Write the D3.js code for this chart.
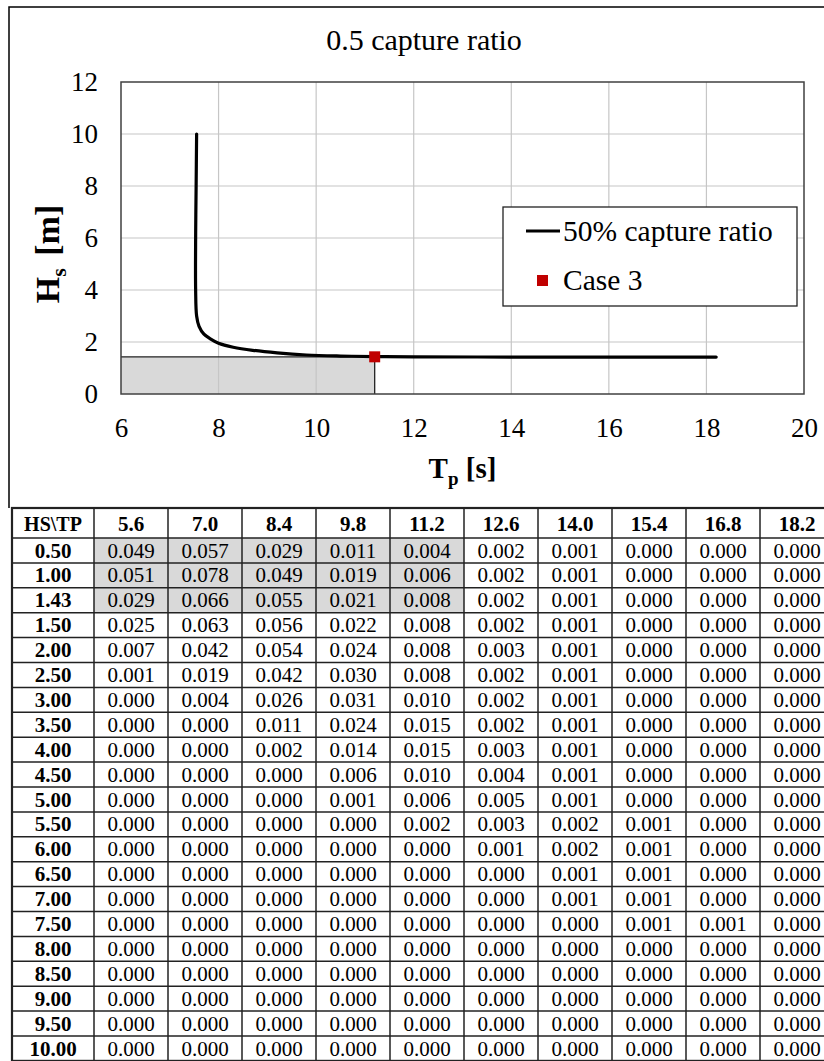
<html lang='en'>
    <head>
        <meta charset='utf-8'>
        <title>0.5 capture ratio</title>
        <script src="https://d3js.org/d3.v7.min.js"></script>
        <style>
            body { margin: 0; background: #fff; }
            svg text { font-family: "Liberation Serif", "Times New Roman", Times, serif; }
        </style>
    </head>
    <body>
        <script>
            // 50% capture ratio curve (Tp, Hs)
            var curveTp = [7.55, 7.54, 7.53, 7.53, 7.55, 7.6, 7.7, 7.85, 8.0, 8.3, 8.7, 9.2, 9.8, 10.5, 11.2, 12.0, 14.0, 16.0, 18.2];
            var curveHs = [10.0, 8.0, 6.0, 4.0, 3.0, 2.6, 2.3, 2.1, 1.95, 1.8, 1.68, 1.58, 1.5, 1.46, 1.44, 1.43, 1.42, 1.42, 1.42];
            var caseTp = 11.2;
            var caseHs = 1.43;
            var xTicks = [6, 8, 10, 12, 14, 16, 18, 20];
            var yTicks = [0, 2, 4, 6, 8, 10, 12];

            // scatter table
            var tpCols = ["5.6", "7.0", "8.4", "9.8", "11.2", "12.6", "14.0", "15.4", "16.8", "18.2"];
            var hsRows = ["0.50", "1.00", "1.43", "1.50", "2.00", "2.50", "3.00", "3.50", "4.00", "4.50",
                          "5.00", "5.50", "6.00", "6.50", "7.00", "7.50", "8.00", "8.50", "9.00", "9.50", "10.00"];
            var tableValues = [
                [0.049, 0.057, 0.029, 0.011, 0.004, 0.002, 0.001, 0.000, 0.000, 0.000],
                [0.051, 0.078, 0.049, 0.019, 0.006, 0.002, 0.001, 0.000, 0.000, 0.000],
                [0.029, 0.066, 0.055, 0.021, 0.008, 0.002, 0.001, 0.000, 0.000, 0.000],
                [0.025, 0.063, 0.056, 0.022, 0.008, 0.002, 0.001, 0.000, 0.000, 0.000],
                [0.007, 0.042, 0.054, 0.024, 0.008, 0.003, 0.001, 0.000, 0.000, 0.000],
                [0.001, 0.019, 0.042, 0.030, 0.008, 0.002, 0.001, 0.000, 0.000, 0.000],
                [0.000, 0.004, 0.026, 0.031, 0.010, 0.002, 0.001, 0.000, 0.000, 0.000],
                [0.000, 0.000, 0.011, 0.024, 0.015, 0.002, 0.001, 0.000, 0.000, 0.000],
                [0.000, 0.000, 0.002, 0.014, 0.015, 0.003, 0.001, 0.000, 0.000, 0.000],
                [0.000, 0.000, 0.000, 0.006, 0.010, 0.004, 0.001, 0.000, 0.000, 0.000],
                [0.000, 0.000, 0.000, 0.001, 0.006, 0.005, 0.001, 0.000, 0.000, 0.000],
                [0.000, 0.000, 0.000, 0.000, 0.002, 0.003, 0.002, 0.001, 0.000, 0.000],
                [0.000, 0.000, 0.000, 0.000, 0.000, 0.001, 0.002, 0.001, 0.000, 0.000],
                [0.000, 0.000, 0.000, 0.000, 0.000, 0.000, 0.001, 0.001, 0.000, 0.000],
                [0.000, 0.000, 0.000, 0.000, 0.000, 0.000, 0.001, 0.001, 0.000, 0.000],
                [0.000, 0.000, 0.000, 0.000, 0.000, 0.000, 0.000, 0.001, 0.001, 0.000],
                [0.000, 0.000, 0.000, 0.000, 0.000, 0.000, 0.000, 0.000, 0.000, 0.000],
                [0.000, 0.000, 0.000, 0.000, 0.000, 0.000, 0.000, 0.000, 0.000, 0.000],
                [0.000, 0.000, 0.000, 0.000, 0.000, 0.000, 0.000, 0.000, 0.000, 0.000],
                [0.000, 0.000, 0.000, 0.000, 0.000, 0.000, 0.000, 0.000, 0.000, 0.000],
                [0.000, 0.000, 0.000, 0.000, 0.000, 0.000, 0.000, 0.000, 0.000, 0.000]
            ];
            // shaded cells: Hs <= case Hs and Tp <= case Tp
            var shadeRows = 3, shadeCols = 5;

            var FONT = '"Liberation Serif", "Times New Roman", Times, serif';
            var width = 824, height = 1061;
            var svg = d3.select('body').append('svg')
                        .attr('width', width)
                        .attr('height', height)
                        .attr('font-family', FONT);

            // ---------- chart ----------
            var plot = {left: 121, right: 804, top: 82, bottom: 394};
            var x = d3.scaleLinear().domain([6, 20]).range([plot.left, plot.right]);
            var y = d3.scaleLinear().domain([0, 12]).range([plot.bottom, plot.top]);

            // outer frame
            svg.append('path')
               .attr('d', 'M9,508 L9,7 L824,7')
               .attr('fill', 'none')
               .attr('stroke', '#000')
               .attr('stroke-width', 1.5);

            svg.append('text')
               .attr('x', 424).attr('y', 50)
               .attr('text-anchor', 'middle')
               .style('font-family', FONT)
               .style('font-size', '30px')
               .text('0.5 capture ratio');

            // region below case 3
            svg.append('rect')
               .attr('x', x(6)).attr('y', y(caseHs))
               .attr('width', x(caseTp) - x(6))
               .attr('height', y(0) - y(caseHs))
               .attr('fill', '#d9d9d9');

            // grid
            svg.append('g').selectAll('line').data(xTicks.slice(1, -1)).enter().append('line')
               .attr('x1', d => x(d)).attr('x2', d => x(d))
               .attr('y1', plot.top).attr('y2', plot.bottom)
               .attr('stroke', '#c6c6c6').attr('stroke-width', 1.2);
            svg.append('g').selectAll('line').data(yTicks.slice(1, -1)).enter().append('line')
               .attr('x1', plot.left).attr('x2', plot.right)
               .attr('y1', d => y(d)).attr('y2', d => y(d))
               .attr('stroke', '#c6c6c6').attr('stroke-width', 1.2);

            svg.append('path')
               .attr('d', 'M' + x(6) + ',' + y(caseHs) + 'L' + x(caseTp) + ',' + y(caseHs) + 'L' + x(caseTp) + ',' + y(0))
               .attr('fill', 'none').attr('stroke', '#222').attr('stroke-width', 1.3);

            // plot border
            svg.append('rect')
               .attr('x', plot.left).attr('y', plot.top)
               .attr('width', plot.right - plot.left).attr('height', plot.bottom - plot.top)
               .attr('fill', 'none').attr('stroke', '#404040').attr('stroke-width', 1.5);

            // axes labels
            var xAxis = d3.axisBottom(x).tickValues(xTicks).tickSize(0).tickPadding(24);
            var gx = svg.append('g').attr('transform', 'translate(0,' + plot.bottom + ')').call(xAxis);
            gx.attr('font-family', FONT);
            gx.select('.domain').remove();
            gx.selectAll('text').style('font-size', '27px').style('font-family', FONT).attr('fill', '#000');

            var yAxis = d3.axisLeft(y).tickValues(yTicks).tickSize(0).tickPadding(23);
            var gy = svg.append('g').attr('transform', 'translate(' + plot.left + ',0)').call(yAxis);
            gy.attr('font-family', FONT);
            gy.select('.domain').remove();
            gy.selectAll('text').style('font-size', '27px').style('font-family', FONT).attr('fill', '#000');

            var xl = svg.append('text')
               .attr('x', (plot.left + plot.right) / 2).attr('y', 478)
               .attr('text-anchor', 'middle')
               .style('font-family', FONT)
               .style('font-size', '29px').style('font-weight', 'bold');
            xl.append('tspan').text('T');
            xl.append('tspan').attr('dy', 7).style('font-size', '19px').text('p');
            xl.append('tspan').attr('dy', -7).text(' [s]');

            var yl = svg.append('text')
               .attr('transform', 'translate(59,254) rotate(-90)')
               .attr('text-anchor', 'middle')
               .style('font-family', FONT)
               .style('font-size', '34px').style('font-weight', 'bold');
            yl.append('tspan').text('H');
            yl.append('tspan').attr('dy', 7).style('font-size', '22px').text('s');
            yl.append('tspan').attr('dy', -7).attr('dx', 4).text(' [m]');

            // curve
            var line = d3.line()
                         .x(d => x(d[0])).y(d => y(d[1]))
                         .curve(d3.curveCatmullRom.alpha(0.5));
            svg.append('path')
               .datum(d3.zip(curveTp, curveHs))
               .attr('d', line)
               .attr('fill', 'none')
               .attr('stroke', '#000')
               .attr('stroke-width', 3.2)
               .attr('stroke-linecap', 'round');

            // case 3 point
            svg.append('rect')
               .attr('x', x(caseTp) - 5.5).attr('y', y(caseHs) - 5.5)
               .attr('width', 11).attr('height', 11)
               .attr('fill', '#c00000');

            // legend
            var lg = svg.append('g');
            lg.append('rect')
              .attr('x', 503).attr('y', 207).attr('width', 294).attr('height', 99)
              .attr('fill', '#fff').attr('stroke', '#222').attr('stroke-width', 1.3);
            lg.append('line')
              .attr('x1', 526).attr('x2', 560).attr('y1', 231).attr('y2', 231)
              .attr('stroke', '#000').attr('stroke-width', 3.2);
            lg.append('text').attr('x', 563).attr('y', 241)
              .style('font-family', FONT).style('font-size', '29.5px').text('50% capture ratio');
            lg.append('rect').attr('x', 537).attr('y', 275).attr('width', 11).attr('height', 11).attr('fill', '#c00000');
            lg.append('text').attr('x', 563).attr('y', 290)
              .style('font-family', FONT).style('font-size', '29.5px').text('Case 3');

            // ---------- table ----------
            var tableTop = 508, headerH = 30, rowH = 24.9;
            var tableLeft = 12, firstColRight = 94, colW = 74;
            var colX = d3.scaleLinear().domain([0, 1]).range([firstColRight, firstColRight + colW]);
            var rowY = d3.scaleLinear().domain([0, 1]).range([tableTop + headerH, tableTop + headerH + rowH]);
            var tableRight = colX(tpCols.length);
            var tableBottom = rowY(hsRows.length);

            var tg = svg.append('g');

            // shaded cells
            for (var r = 0; r < shadeRows; r++) {
                for (var c = 0; c < shadeCols; c++) {
                    tg.append('rect')
                      .attr('x', colX(c)).attr('y', rowY(r))
                      .attr('width', colW).attr('height', rowH)
                      .attr('fill', '#d9d9d9');
                }
            }

            // header
            tg.append('text')
              .attr('x', (tableLeft + firstColRight) / 2).attr('y', tableTop + 23)
              .attr('text-anchor', 'middle')
              .style('font-family', FONT)
              .style('font-size', '20px').style('font-weight', 'bold')
              .text('HS\\TP');
            tg.selectAll('.hdr').data(tpCols).enter().append('text')
              .attr('class', 'hdr')
              .attr('x', (d, i) => colX(i + 0.5)).attr('y', tableTop + 23)
              .attr('text-anchor', 'middle')
              .style('font-family', FONT)
              .style('font-size', '21px').style('font-weight', 'bold')
              .text(d => d);

            // rows
            hsRows.forEach(function(h, r) {
                tg.append('text')
                  .attr('x', (tableLeft + firstColRight) / 2).attr('y', rowY(r) + 19.5)
                  .attr('text-anchor', 'middle')
                  .style('font-family', FONT)
                  .style('font-size', '21px').style('font-weight', 'bold')
                  .text(h);
                tg.selectAll('.v' + r).data(tableValues[r]).enter().append('text')
                  .attr('x', (d, i) => colX(i + 0.5)).attr('y', rowY(r) + 19.5)
                  .attr('text-anchor', 'middle')
                  .style('font-family', FONT)
                  .style('font-size', '21px')
                  .text(d => d.toFixed(3));
            });

            // grid lines of table
            var hLines = d3.range(hsRows.length + 1).map(i => rowY(i));
            tg.selectAll('.hl').data(hLines).enter().append('line')
              .attr('x1', tableLeft).attr('x2', tableRight)
              .attr('y1', d => d).attr('y2', d => d)
              .attr('stroke', '#222').attr('stroke-width', 1.5);
            var vLines = [firstColRight].concat(d3.range(1, tpCols.length + 1).map(i => colX(i)));
            tg.selectAll('.vl').data(vLines).enter().append('line')
              .attr('x1', d => d).attr('x2', d => d)
              .attr('y1', tableTop).attr('y2', tableBottom)
              .attr('stroke', '#222').attr('stroke-width', 1.5);
            tg.append('rect')
              .attr('x', tableLeft).attr('y', tableTop)
              .attr('width', tableRight - tableLeft).attr('height', tableBottom - tableTop)
              .attr('fill', 'none').attr('stroke', '#222').attr('stroke-width', 2.2);
        </script>
    </body>
</html>
